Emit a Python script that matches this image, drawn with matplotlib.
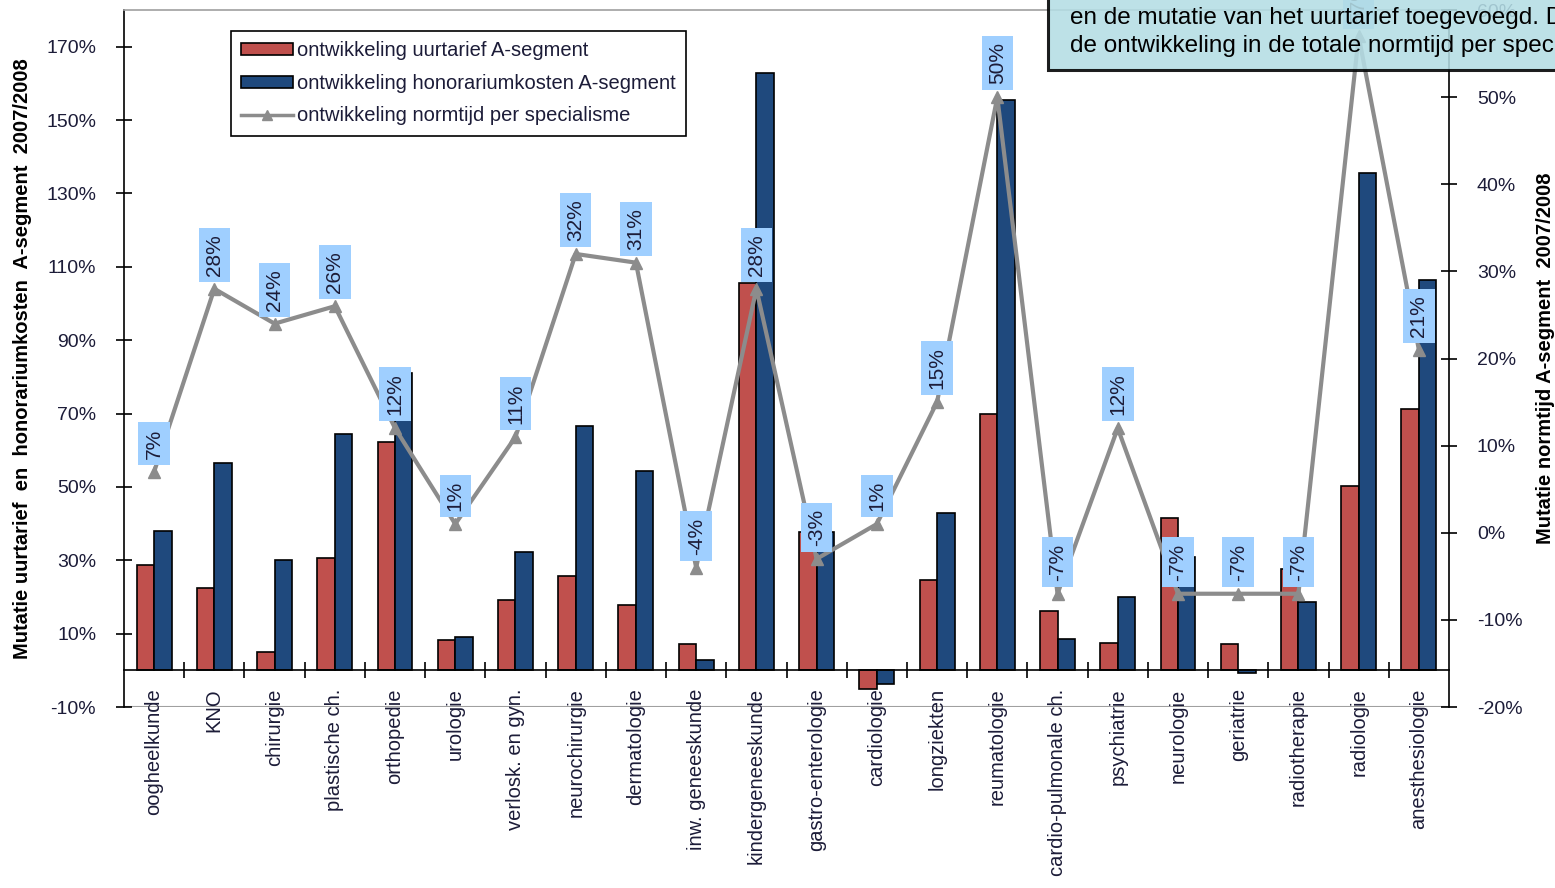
import matplotlib
matplotlib.use("Agg")
import matplotlib.pyplot as plt
import numpy as np
from matplotlib.patches import Patch, Rectangle
from matplotlib.lines import Line2D

plt.rcParams['font.family'] = ['Liberation Sans', 'DejaVu Sans']

specialismen = ["oogheelkunde", "KNO", "chirurgie", "plastische ch.", "orthopedie",
                "urologie", "verlosk. en gyn.", "neurochirurgie", "dermatologie",
                "inw. geneeskunde", "kindergeneeskunde", "gastro-enterologie",
                "cardiologie", "longziekten", "reumatologie", "cardio-pulmonale ch.",
                "psychiatrie", "neurologie", "geriatrie", "radiotherapie",
                "radiologie", "anesthesiologie"]

# mutatie uurtarief A-segment (%)
uurtarief = [28.7, 22.5, 5.0, 30.6, 62.3, 8.3, 19.2, 25.7, 17.8, 7.2, 105.6,
             37.8, -5.0, 24.6, 69.9, 16.2, 7.4, 41.5, 7.2, 27.6, 50.3, 71.3]
# mutatie honorariumkosten A-segment (%)
honorarium = [38.0, 56.4, 30.0, 64.4, 81.1, 9.1, 32.3, 66.6, 54.4, 2.8, 162.8,
              37.8, -3.7, 42.9, 155.5, 8.5, 20.0, 30.9, -0.7, 18.6, 135.6, 106.5]
# mutatie normtijd per specialisme (%)
normtijd = [7, 28, 24, 26, 12, 1, 11, 32, 31, -4, 28, -3, 1, 15, 50, -7, 12,
            -7, -7, -7, 57, 21]

red = "#C0504D"
blue = "#1F497D"
grey = "#8C8C8C"
txt = "#1C1C38"
narrow = ["Liberation Sans Narrow", "Liberation Sans"]

fig = plt.figure(figsize=(15.55, 8.88), dpi=100)
ax = fig.add_axes([124 / 1555, 1 - 707 / 888, (1449 - 124) / 1555, (707 - 10) / 888])
ax2 = ax.twinx()

x = np.arange(len(specialismen))
w = 0.29
ax.bar(x - w / 2, uurtarief, w, color=red, edgecolor="black", linewidth=1.2, zorder=2)
ax.bar(x + w / 2, honorarium, w, color=blue, edgecolor="black", linewidth=1.2, zorder=2)

ax.set_xlim(-0.5, len(specialismen) - 0.5)
ax.set_ylim(-10, 180)
ax.set_yticks(np.arange(-10, 171, 20))
ax.set_yticklabels([f"{v}%" for v in range(-10, 171, 20)], fontsize=14, color=txt)
ax.tick_params(axis="y", direction="inout", length=12, width=1.2, pad=14)

# category axis sits at 0%
ax.spines["bottom"].set_position(("data", 0))
ax.spines["bottom"].set_linewidth(1.2)
ax.spines["left"].set_linewidth(1.2)
ax.spines["right"].set_visible(False)
ax.spines["top"].set_color("#A0A0A0")
ax.spines["top"].set_linewidth(1.2)
ax.axhline(-10, color="#A0A0A0", linewidth=1.5, zorder=1)

ax.set_xticks(x)
ax.set_xticklabels(specialismen, rotation=90, fontsize=14.5, color=txt, va="top")
ax.set_xticks(np.arange(0.5, len(specialismen) - 1, 1), minor=True)
ax.tick_params(axis="x", which="major", length=0, pad=13)
ax.tick_params(axis="x", which="minor", direction="inout", length=12, width=1.2)

ax.set_ylabel("Mutatie uurtarief  en  honorariumkosten  A-segment  2007/2008",
              fontsize=14.5, fontweight="bold", family=narrow)
ax.yaxis.set_label_coords((32 - 124) / 1325, 0.5)

# normtijd line on the right axis
ax2.plot(x, normtijd, color=grey, linewidth=3, marker="^", markersize=8,
         markerfacecolor=grey, markeredgecolor=grey, zorder=3)
ax2.set_ylim(-20, 60)
ax2.set_yticks(np.arange(-20, 61, 10))
ax2.set_yticklabels([f"{v}%" for v in range(-20, 61, 10)], fontsize=14, color=txt)
ax2.tick_params(axis="y", direction="inout", length=12, width=1.2, pad=14)
for s in ["left", "top", "bottom"]:
    ax2.spines[s].set_visible(False)
ax2.spines["right"].set_linewidth(1.2)
ax2.set_ylabel("Mutatie normtijd A-segment  2007/2008", fontsize=14.5, fontweight="bold",
               family=narrow, rotation=90)
ax2.yaxis.set_label_coords((1536 - 124) / 1325, 0.5)

for xi, v in zip(x, normtijd):
    ax2.annotate(f"{v}%", (xi, v), xytext=(0, 13), textcoords="offset pixels",
                 rotation=90, ha="center", va="bottom", fontsize=15, color=txt, zorder=4,
                 bbox=dict(boxstyle="square,pad=0.3", facecolor="#9FCFFF", edgecolor="none"))

handles = [Patch(facecolor=red, edgecolor="black", linewidth=1.2),
           Patch(facecolor=blue, edgecolor="black", linewidth=1.2),
           Line2D([], [], color=grey, linewidth=2.5, marker="^", markersize=7)]
labels = ["ontwikkeling uurtarief A-segment",
          "ontwikkeling honorariumkosten A-segment",
          "ontwikkeling normtijd per specialisme"]
leg = ax2.legend(handles, labels, loc="upper left",
                 bbox_to_anchor=(231 / 1555, 1 - 31 / 888), bbox_transform=fig.transFigure,
                 fontsize=14.5, fancybox=False, framealpha=1, edgecolor="black",
                 handlelength=2.6, handleheight=0.55, handletextpad=0.2,
                 labelspacing=0.68, borderpad=0.5, borderaxespad=0)
leg.get_frame().set_linewidth(1.2)
for t in leg.get_texts():
    t.set_color(txt)

# explanatory note in the top right corner
note = Rectangle((1048 / 1555, 1 - 70 / 888), 0.4, 0.2, transform=fig.transFigure,
                 facecolor="#B4DDE4", edgecolor="black", linewidth=2.2, alpha=0.88, zorder=5)
fig.add_artist(note)
fig.text(1070 / 1555, 1 - 18 / 888, "en de mutatie van het uurtarief toegevoegd. Daarnaast",
         fontsize=17.5, va="center", ha="left", zorder=6)
fig.text(1070 / 1555, 1 - 46 / 888, "de ontwikkeling in de totale normtijd per specialisme",
         fontsize=17.5, va="center", ha="left", zorder=6)

fig.savefig("out.png", dpi=100)
